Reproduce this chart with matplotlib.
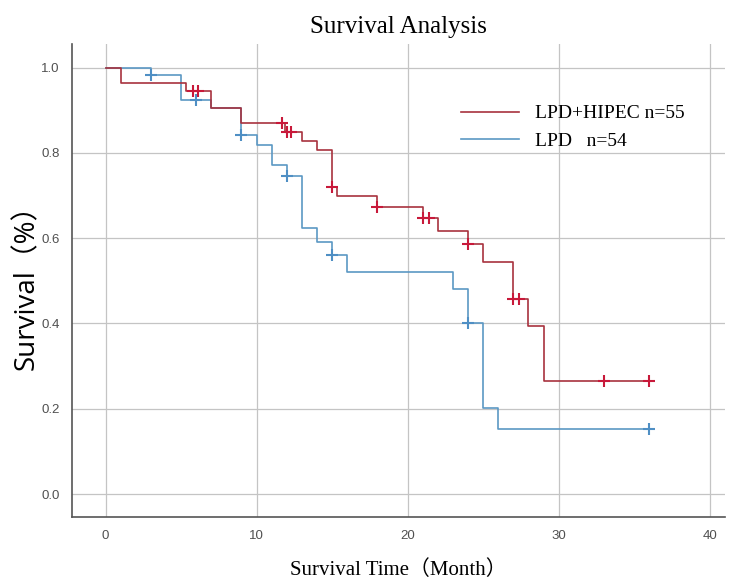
import numpy as np
import matplotlib.pyplot as plt

# Kaplan-Meier steps
t_hipec = [0, 1, 5.3, 7, 9, 11.9, 13, 14, 15, 15.3, 18, 21, 22, 24, 25, 27, 28, 29, 36]
s_hipec = [1.0, 0.964, 0.946, 0.905, 0.870, 0.849, 0.827, 0.806, 0.721, 0.698,
           0.674, 0.647, 0.618, 0.587, 0.545, 0.458, 0.395, 0.264, 0.264]
cens_hipec = [5.8, 6.1, 11.7, 12.0, 12.3, 15.0, 18.0, 21.0, 21.4, 24.0, 27.0, 27.4, 33.0, 36.0]

t_lpd = [0, 3, 5, 7, 9, 10, 11, 12, 13, 14, 15, 16, 23, 24, 25, 26, 36]
s_lpd = [1.0, 0.982, 0.925, 0.905, 0.842, 0.818, 0.771, 0.746, 0.623, 0.591,
         0.561, 0.521, 0.480, 0.401, 0.201, 0.152, 0.152]
cens_lpd = [3, 6, 9, 12, 15, 24, 36]

labels = ["LPD+HIPEC n=55", "LPD   n=54"]
line_colors = ["#a8323e", "#5b98c4"]
mark_colors = ["#c8193a", "#4f8fc4"]


def at(times, surv, c):
    i = np.searchsorted(times, c, side="right") - 1
    return np.array(surv)[i]


fig = plt.figure(figsize=(7.3, 5.83), dpi=100)
ax = fig.add_axes([0.099, 0.113, 0.894, 0.812])

ax.grid(True, color="#c4c4c4", linewidth=0.9)
ax.set_axisbelow(True)

for t, s, c, lab, lc, mc in [(t_lpd, s_lpd, cens_lpd, labels[1], line_colors[1], mark_colors[1]),
                             (t_hipec, s_hipec, cens_hipec, labels[0], line_colors[0], mark_colors[0])]:
    ax.step(t, s, where="post", color=lc, linewidth=1.2, label=lab)
    cy = [at(t, s, x) for x in c]
    ax.plot(c, cy, linestyle="none", marker="+", markersize=9,
            markeredgewidth=1.5, color=mc)

ax.set_xlim(-2.2, 41)
ax.set_ylim(-0.054, 1.056)
ax.set_xticks([0, 10, 20, 30, 40])
ax.set_yticks([0.0, 0.2, 0.4, 0.6, 0.8, 1.0])
ax.set_yticklabels(["0.0", "0.2", "0.4", "0.6", "0.8", "1.0"])
ax.tick_params(length=0, labelsize=9.5, labelcolor="#505050", pad=9,
               labelfontfamily="Liberation Sans")

for side in ["top", "right"]:
    ax.spines[side].set_visible(False)
for side in ["left", "bottom"]:
    ax.spines[side].set_color("#555555")
    ax.spines[side].set_linewidth(1.2)

ax.set_title("Survival Analysis", fontsize=18, family="Liberation Serif", pad=8)
ax.set_xlabel("Survival Time（Month）", fontsize=15,
              family=["Liberation Serif", "Noto Sans CJK SC"], labelpad=13)
ax.set_ylabel("Survival（%）", fontsize=20,
              family=["Open Sans", "Noto Sans CJK SC"], labelpad=0)

h, l = ax.get_legend_handles_labels()
ax.legend(h[::-1], l[::-1], loc="upper right", bbox_to_anchor=(0.965, 0.908),
          frameon=False, prop={"family": "Liberation Serif", "size": 14},
          handlelength=3.0, labelspacing=0.5)

fig.savefig("out.png", dpi=100)
